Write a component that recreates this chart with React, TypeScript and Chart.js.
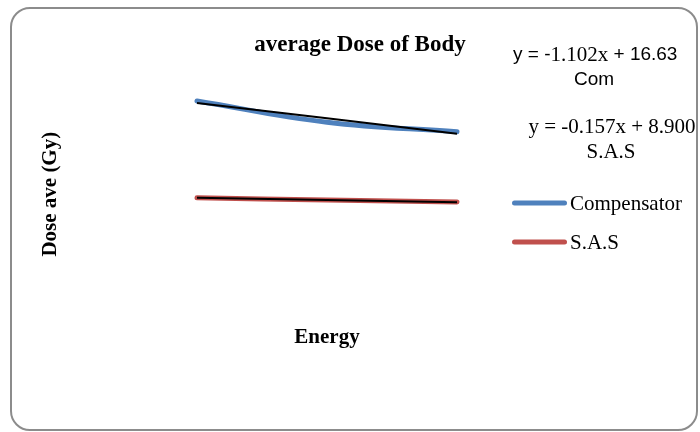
import React, { useEffect, useRef } from 'react';
import { Chart, registerables } from 'chart.js';

Chart.register(...registerables);

// ---- data ----
const energies = ['E1', 'E2', 'E3'];
const compensatorDose = [15.67, 14.15, 13.47];
const sasDose = [8.75, 8.58, 8.44];
const compensatorTrend = [15.53, 14.43, 13.32];
const sasTrend = [8.743, 8.586, 8.429];
const seriesNames = ['Compensator', 'S.A.S'];
const seriesColors = ['#4F81BD', '#C0504D'];
const trendEquations = ['y = -1.102x + 16.63', 'y = -0.157x + 8.900'];
const trendNames = ['Com', 'S.A.S'];
const yRange = [0, 18];
const chartTitle = 'average Dose of Body';
const yTitle = 'Dose ave (Gy)';
const xTitle = 'Energy';

const SERIF = '"Liberation Serif", "Times New Roman", serif';
const SANS = '"Liberation Sans", Arial, sans-serif';

const overlayPlugin = {
  id: 'overlayText',
  afterDraw(chart: any) {
    const ctx = chart.ctx as CanvasRenderingContext2D;
    ctx.save();
    // legend
    const series = chart.data.datasets.filter((d: any) => d.isSeries);
    series.forEach((ds: any, i: number) => {
      const y = 194 + i * 39;
      ctx.strokeStyle = ds.borderColor;
      ctx.lineWidth = 5;
      ctx.lineCap = 'round';
      ctx.beginPath();
      ctx.moveTo(502.5, y);
      ctx.lineTo(552.5, y);
      ctx.stroke();
      ctx.fillStyle = '#000';
      ctx.font = `21px ${SERIF}`;
      ctx.textBaseline = 'middle';
      ctx.textAlign = 'left';
      ctx.fillText(ds.label, 558, y + 1);
    });

    // equation 1 (mixed fonts)
    ctx.fillStyle = '#000';
    ctx.textBaseline = 'middle';
    ctx.textAlign = 'left';
    const m = trendEquations[0].match(/^(y = -)(\S+x)( \+ .*)$/);
    const segs = m
      ? [
          { t: m[1], f: `19px ${SANS}` },
          { t: m[2], f: `21px ${SERIF}` },
          { t: m[3], f: `19px ${SANS}` },
        ]
      : [{ t: trendEquations[0], f: `19px ${SANS}` }];
    let x = 501;
    segs.forEach((s) => {
      ctx.font = s.f;
      ctx.fillText(s.t, x, 46);
      x += ctx.measureText(s.t).width;
    });
    ctx.textAlign = 'center';
    ctx.font = `19px ${SANS}`;
    ctx.fillText(trendNames[0], 582, 71);

    ctx.font = `21px ${SERIF}`;
    ctx.fillText(trendEquations[1], 600, 118);
    ctx.fillText(trendNames[1], 599, 143);
    ctx.restore();
  },
};

export default function App() {
  const canvasRef = useRef<HTMLCanvasElement | null>(null);

  useEffect(() => {
    if (!canvasRef.current) return;
    const chart = new Chart(canvasRef.current, {
      type: 'line',
      data: {
        labels: energies,
        datasets: [
          {
            label: 'Trend Com',
            data: compensatorTrend,
            borderColor: '#000000',
            borderWidth: 2,
            pointRadius: 0,
            tension: 0,
            order: 0,
          },
          {
            label: 'Trend S.A.S',
            data: sasTrend,
            borderColor: '#000000',
            borderWidth: 2,
            pointRadius: 0,
            tension: 0,
            order: 0,
          },
          {
            label: seriesNames[0],
            data: compensatorDose,
            borderColor: seriesColors[0],
            backgroundColor: seriesColors[0],
            borderWidth: 5,
            pointRadius: 0,
            tension: 0.4,
            borderCapStyle: 'round',
            order: 1,
            isSeries: true,
          } as any,
          {
            label: seriesNames[1],
            data: sasDose,
            borderColor: seriesColors[1],
            backgroundColor: seriesColors[1],
            borderWidth: 5,
            pointRadius: 0,
            tension: 0.4,
            borderCapStyle: 'round',
            order: 1,
            isSeries: true,
          } as any,
        ],
      },
      options: {
        animation: false,
        responsive: true,
        maintainAspectRatio: false,
        layout: { padding: { left: 12, right: 0, top: 0, bottom: 78.4 } },
        plugins: {
          legend: { display: false },
          tooltip: { enabled: false },
          title: {
            display: true,
            text: chartTitle,
            color: '#000',
            font: { family: SERIF, size: 23, weight: 'bold' },
            padding: { top: 22.2, bottom: 9.6 },
          },
        },
        scales: {
          x: {
            offset: true,
            ticks: { display: false },
            grid: { display: false, drawTicks: false },
            border: { display: false },
            title: {
              display: true,
              text: xTitle,
              color: '#000',
              font: { family: SERIF, size: 21, weight: 'bold' },
              padding: { top: 5.4, bottom: 0 },
            },
          },
          y: {
            min: yRange[0],
            max: yRange[1],
            ticks: { display: false },
            grid: { display: false, drawTicks: false },
            border: { display: false },
            title: {
              display: true,
              text: yTitle,
              color: '#000',
              font: { family: SERIF, size: 21, weight: 'bold' },
              padding: { top: 14.4, bottom: 68.4 },
            },
          },
          yRight: {
            position: 'right',
            ticks: { display: false },
            grid: { display: false, drawTicks: false },
            border: { display: false },
            afterFit: (scale: any) => {
              scale.width = 174;
            },
          },
        },
      } as any,
      plugins: [overlayPlugin],
    });
    return () => chart.destroy();
  }, []);

  return (
    <div
      style={{
        position: 'absolute',
        left: 10,
        top: 7,
        width: 688,
        height: 424,
        border: '2px solid #8c8c8c',
        borderRadius: 20,
        boxSizing: 'border-box',
        background: '#fff',
      }}
    >
      <canvas ref={canvasRef} />
    </div>
  );
}
